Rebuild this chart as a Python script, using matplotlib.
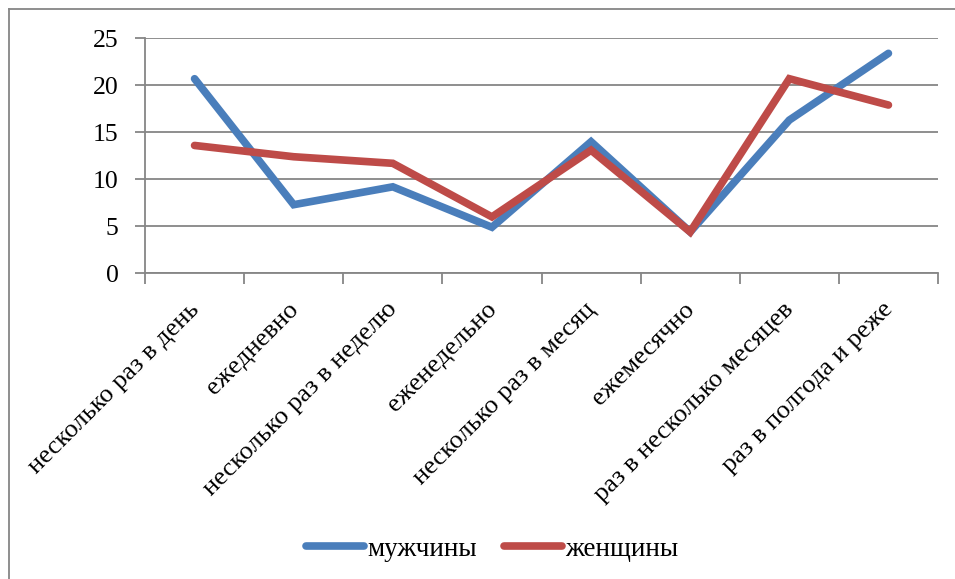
import matplotlib.pyplot as plt
import matplotlib.transforms as mtransforms
from matplotlib.lines import Line2D

categories = ['несколько раз в день', 'ежедневно', 'несколько раз в неделю',
              'еженедельно', 'несколько раз в месяц', 'ежемесячно',
              'раз в несколько месяцев', 'раз в полгода и реже']
men = [20.7, 7.3, 9.2, 4.9, 14.0, 4.4, 16.3, 23.4]
women = [13.6, 12.4, 11.7, 6.0, 13.1, 4.4, 20.7, 17.9]
yticks = [0, 5, 10, 15, 20, 25]

plt.rcParams['font.family'] = ['Liberation Serif', 'DejaVu Serif']

W, H = 955, 579
fig = plt.figure(figsize=(W / 100, H / 100), dpi=100)
ax = fig.add_axes([145 / W, 1 - 273.3 / H, (938 - 145) / W, (273.3 - 38.3) / H])

grey = '#868686'
x = list(range(len(categories)))
ax.plot(x, men, color='#4A7EBB', lw=5.5, solid_capstyle='round',
        solid_joinstyle='miter', label='мужчины', zorder=3)
ax.plot(x, women, color='#BE4B48', lw=5.5, solid_capstyle='round',
        solid_joinstyle='miter', label='женщины', zorder=4)

ax.set_xlim(-0.5, len(categories) - 0.5)
ax.set_ylim(0, 25)
ax.set_yticks(yticks)
ax.yaxis.grid(True, color=grey, lw=1.3)
ax.set_axisbelow(True)
for s in ['top', 'right']:
    ax.spines[s].set_visible(False)
for s in ['left', 'bottom']:
    ax.spines[s].set_color(grey)
    ax.spines[s].set_linewidth(1.3)

ax.tick_params(axis='y', length=7, width=1.3, color=grey, labelsize=18.5, pad=12)
ax.set_xticks(x)
ax.set_xticks([i - 0.5 for i in range(len(categories) + 1)], minor=True)
ax.tick_params(axis='x', which='major', length=0, labelsize=19, pad=18)
ax.tick_params(axis='x', which='minor', length=8, width=1.3, color=grey)
ax.set_xticklabels(categories, rotation=45, ha='right', va='top')
offset = mtransforms.ScaledTranslation(9 / 100, 0, fig.dpi_scale_trans)
for lab in ax.get_xticklabels():
    lab.set_transform(lab.get_transform() + offset)

fig.legend(loc='center', bbox_to_anchor=(492 / W, 1 - 549 / H), ncol=2,
           frameon=False, fontsize=19.5, handlelength=2.15, handletextpad=0.1,
           columnspacing=1.0)

# chart outer border (cropped at right and bottom)
fig.add_artist(Line2D([8.5 / W, 8.5 / W], [0, 1 - 9 / H], color=grey, lw=1.3,
                      transform=fig.transFigure))
fig.add_artist(Line2D([8.5 / W, 1], [1 - 9 / H, 1 - 9 / H], color=grey, lw=1.3,
                      transform=fig.transFigure))

fig.savefig('out.png', dpi=100)
